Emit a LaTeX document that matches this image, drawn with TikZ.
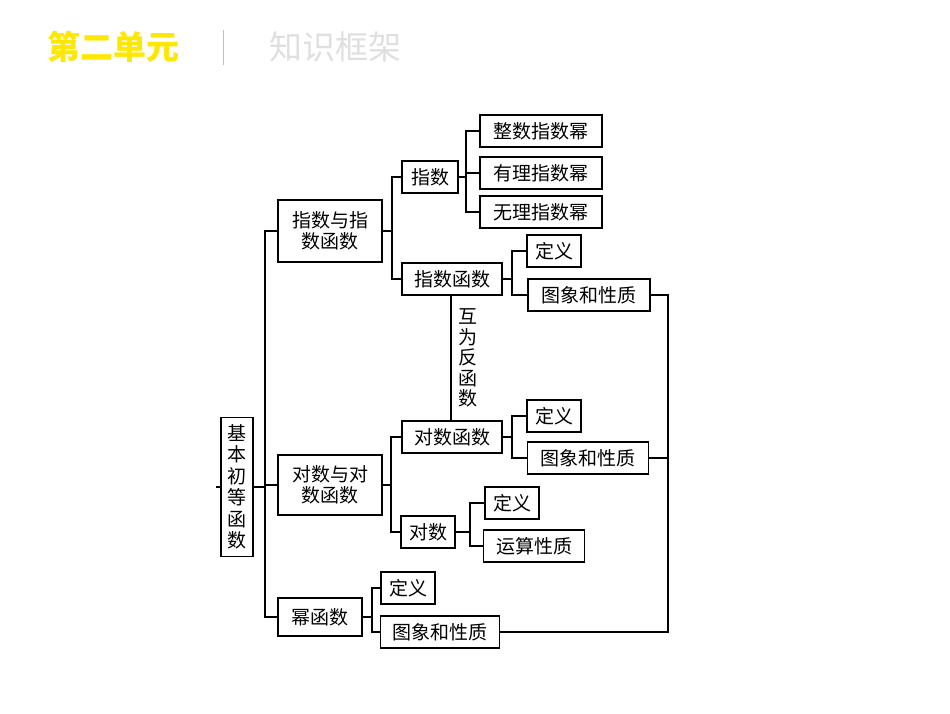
\documentclass[tikz,border=0pt]{standalone}
\usepackage{fontspec}
\newfontfamily\cjk{Noto Sans CJK SC}
\begin{document}
\begin{tikzpicture}[x=1pt,y=-1pt,
  bx/.style={draw,line width=1.6pt,inner sep=0pt,font=\cjk\fontsize{19}{21}\selectfont},
  ln/.style={line width=1.5pt}]
\useasboundingbox (0,0) rectangle (950,713);
% header
\node[font=\cjk\bfseries\fontsize{33}{36}\selectfont,text=yellow!90!orange] (h1) at (113,47) {第二单元};
\node[font=\cjk\fontsize{33}{36}\selectfont,text=gray!25] (h2) at (335,47) {知识框架};
\draw[gray!50,line width=1pt] (223,30) -- (223,65);
% nodes
\node[bx,minimum width=32,minimum height=139,align=center,font=\cjk\fontsize{19}{21.5}\selectfont] (root) at (237,487) {基\\本\\初\\等\\函\\数};
\node[bx,minimum width=104,minimum height=62,align=center] (zs) at (330,231) {指数与指\\数函数};
\node[bx,minimum width=104,minimum height=60,align=center] (ds) at (330,485) {对数与对\\数函数};
\node[bx,minimum width=84,minimum height=38] (mh) at (320,617) {幂函数};
\node[bx,minimum width=56,minimum height=32] (zhi) at (430,177) {指数};
\node[bx,minimum width=100,minimum height=32] (zhf) at (452,279) {指数函数};
\node[bx,minimum width=122,minimum height=32] (a1) at (541,131) {整数指数幂};
\node[bx,minimum width=122,minimum height=32] (a2) at (541,173) {有理指数幂};
\node[bx,minimum width=122,minimum height=32] (a3) at (541,212) {无理指数幂};
\node[bx,minimum width=54,minimum height=32] (b1) at (554,251) {定义};
\node[bx,minimum width=122,minimum height=32] (b2) at (589,295) {图象和性质};
\node[bx,minimum width=100,minimum height=32] (dhf) at (452,437) {对数函数};
\node[bx,minimum width=54,minimum height=32] (c1) at (554,416) {定义};
\node[bx,minimum width=121,minimum height=32] (c2) at (588,458) {图象和性质};
\node[bx,minimum width=54,minimum height=32] (dui) at (428,532) {对数};
\node[bx,minimum width=54,minimum height=32] (d1) at (512,503) {定义};
\node[bx,minimum width=101,minimum height=32] (d2) at (534,546) {运算性质};
\node[bx,minimum width=54,minimum height=32] (e1) at (408,588) {定义};
\node[bx,minimum width=119,minimum height=32] (e2) at (440,632) {图象和性质};
\node[font=\cjk\fontsize{19}{20.5}\selectfont,align=center,inner sep=0pt] (hw) at (468,358) {互\\为\\反\\函\\数};
% connectors
\coordinate (stub) at (216,487);
\draw[ln] (stub) -- (root.west);
\draw[ln] (root.east) -- (265,487);
\draw[ln] (zs.west) -| (265,617) -- (mh.west);
\draw[ln] (265,485) -- (ds.west);
\draw[ln] (zs.east) -- (392,231);
\draw[ln] (zhi.west) -| (392,279) -- (zhf.west);
\draw[ln] (zhi.east) -- (466,177);
\draw[ln] (a1.west) -| (466,212) -- (a3.west);
\draw[ln] (466,173) -- (a2.west);
\draw[ln] (zhf.east) -- (512,279);
\draw[ln] (b1.west) -| (512,295) -- (b2.west);
\draw[ln] (zhf.south -| 451,0) -- (dhf.north -| 451,0);
\draw[ln] (ds.east) -- (391,485);
\draw[ln] (dhf.west) -| (391,532) -- (dui.west);
\draw[ln] (dhf.east) -- (512,437);
\draw[ln] (c1.west) -| (512,458) -- (c2.west);
\draw[ln] (dui.east) -- (470,532);
\draw[ln] (d1.west) -| (470,546) -- (d2.west);
\draw[ln] (mh.east) -- (372,617);
\draw[ln] (e1.west) -| (372,632) -- (e2.west);
\draw[ln] (b2.east) -| (668,632) -- (e2.east);
\draw[ln] (c2.east) -- (668,458);
\end{tikzpicture}
\end{document}
